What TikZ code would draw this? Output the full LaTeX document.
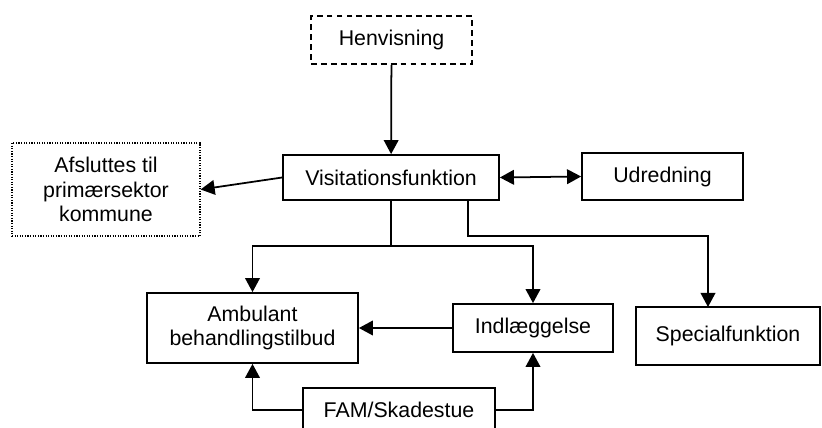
\documentclass[tikz,border=0pt]{standalone}
\usepackage{fontspec}
\setmainfont{Liberation Sans}
\usepackage{tikz}
\usetikzlibrary{arrows.meta, positioning, calc}
\tikzset{
    box/.style={
        rectangle,
        draw=black,
        line width=1.5pt,
        inner sep=0pt,
        align=center,
        font=\fontsize{18.2pt}{21pt}\selectfont,
    },
    boxdash/.style={
        box,
        line width=1.3pt,
        dash pattern=on 5pt off 3.5pt,
    },
    boxdot/.style={
        box,
        line width=1pt,
        dash pattern=on 1pt off 1.2pt,
    },
}

\begin{document}
\begin{tikzpicture}[x=0.03cm,y=-0.03cm,>={Triangle[length=12pt,width=12.5pt]},line width=1.5pt]
          \clip (0,0) rectangle (822,428);
          \useasboundingbox (0,0) rectangle (822,428);

          \node [boxdash, minimum width=4.83cm, minimum height=1.44cm] (henv) at (391.5,40) {Henvisning};
          \node [box, minimum width=6.48cm, minimum height=1.35cm] (visit) at (391,177.5) {Visitationsfunktion};
          \node [box, minimum width=4.83cm, minimum height=1.41cm] (udred) at (662.5,176.5) {Udredning};
          \node [boxdot, minimum width=5.64cm, minimum height=2.79cm] (afsl) at (106,189.5) {Afsluttes til\\primærsektor\\kommune};
          \node [box, minimum width=6.33cm, minimum height=2.10cm] (amb) at (252.5,328) {Ambulant\\behandlingstilbud};
          \node [box, minimum width=4.80cm, minimum height=1.44cm] (indl) at (533,328) {Indlæggelse};
          \node [box, minimum width=5.52cm, minimum height=1.74cm] (spec) at (728,336) {Specialfunktion};
          \node [box, minimum width=5.76cm, minimum height=1.32cm] (fam) at (399,410) {FAM/Skadestue};

          \coordinate (split) at (391,246);
          \coordinate (visit-r) at (468,200);
          \coordinate (spec-in) at (708,307);

          \draw[->] (henv) -- (visit);
          \draw[->] (visit.west) -- (afsl.east);
          \draw[<->] (visit.east) -- (udred.west);
          \draw (visit.south) -- (split);
          \draw[->] (split) -| (amb.north);
          \draw[->] (split) -| (indl.north);
          \draw[->] (visit-r) -- ++(0,36) -| (spec-in);
          \draw[->] (indl.west) -- (amb.east);
          \draw[->] (fam.west) -| (amb.south);
          \draw[->] (fam.east) -| (indl.south);
        \end{tikzpicture}
\end{document}
